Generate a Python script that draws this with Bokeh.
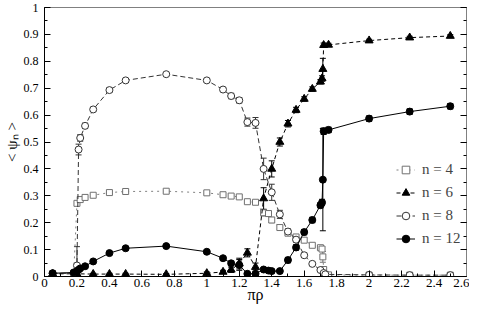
from bokeh.plotting import figure
from bokeh.models import (Range1d, LinearAxis, FixedTicker, Whisker, ColumnDataSource,
                          Legend, LegendItem, TeeHead)
from bokeh.embed import file_html
from bokeh.resources import INLINE

# ---------------- data ----------------
x_ticks = [0, 0.2, 0.4, 0.6, 0.8, 1.0, 1.2, 1.4, 1.6, 1.8, 2.0, 2.2, 2.4, 2.6]
x_tick_labels = ["0", "0.2", "0.4", "0.6", "0.8", "1", "1.2", "1.4", "1.6", "1.8", "2", "2.2", "2.4", "2.6"]
y_ticks = [0, 0.1, 0.2, 0.3, 0.4, 0.5, 0.6, 0.7, 0.8, 0.9, 1.0]
y_tick_labels = ["0", "0.1", "0.2", "0.3", "0.4", "0.5", "0.6", "0.7", "0.8", "0.9", "1"]

n4_x = [0.05, 0.18, 0.2, 0.22, 0.25, 0.3, 0.4, 0.5, 0.75, 1.0, 1.1, 1.15, 1.2, 1.25, 1.3, 1.35, 1.38,
        1.4, 1.45, 1.5, 1.55, 1.6, 1.65, 1.7, 1.71, 1.715, 1.72, 1.73, 1.75, 2.0, 2.25, 2.5]
n4_y = [0.01, 0.012, 0.272, 0.286, 0.294, 0.302, 0.312, 0.316, 0.317, 0.311, 0.304, 0.299, 0.296, 0.278,
        0.276, 0.237, 0.234, 0.21, 0.182, 0.161, 0.147, 0.135, 0.116, 0.107, 0.102, 0.073, 0.026, 0.008,
        0.006, 0.005, 0.005, 0.005]
n4_err = [0.003, 0.003, 0.008, 0.005, 0.004, 0.004, 0.004, 0.004, 0.004, 0.004, 0.004, 0.004, 0.004, 0.005,
          0.005, 0.012, 0.01, 0.01, 0.008, 0.006, 0.005, 0.005, 0.005, 0.006, 0.008, 0.02, 0.01, 0.004,
          0.003, 0.003, 0.003, 0.003]

n6_x = [0.05, 0.2, 0.3, 0.4, 0.5, 0.75, 1.0, 1.1, 1.15, 1.2, 1.25, 1.3, 1.35, 1.4, 1.45, 1.5, 1.55,
        1.6, 1.65, 1.7, 1.71, 1.715, 1.72, 1.75, 2.0, 2.25, 2.5]
n6_y = [0.01, 0.01, 0.009, 0.009, 0.009, 0.008, 0.012, 0.017, 0.025, 0.048, 0.088, 0.035, 0.29, 0.40,
        0.50, 0.568, 0.619, 0.66, 0.697, 0.724, 0.736, 0.771, 0.86, 0.861, 0.877, 0.888, 0.894]
n6_err = [0.003, 0.003, 0.003, 0.003, 0.003, 0.003, 0.005, 0.006, 0.01, 0.02, 0.015, 0.015, 0.04, 0.03,
          0.015, 0.012, 0.01, 0.008, 0.008, 0.008, 0.01, 0.04, 0.008, 0.006, 0.005, 0.005, 0.005]

n8_x = [0.05, 0.18, 0.2, 0.21, 0.22, 0.25, 0.3, 0.4, 0.5, 0.75, 1.0, 1.1, 1.15, 1.2, 1.25, 1.3, 1.35,
        1.4, 1.45, 1.5, 1.55, 1.6, 1.65, 1.7, 1.72, 1.73, 2.0, 2.25, 2.5]
n8_y = [0.012, 0.012, 0.041, 0.472, 0.515, 0.56, 0.621, 0.693, 0.729, 0.752, 0.729, 0.695, 0.671, 0.655,
        0.574, 0.571, 0.40, 0.313, 0.231, 0.167, 0.137, 0.079, 0.047, 0.024, 0.013, 0.008, 0.006,
        0.005, 0.005]
n8_err = [0.003, 0.003, 0.07, 0.02, 0.012, 0.01, 0.008, 0.008, 0.006, 0.005, 0.006, 0.008, 0.01, 0.01,
          0.015, 0.02, 0.04, 0.03, 0.015, 0.01, 0.01, 0.008, 0.006, 0.005, 0.004, 0.003, 0.003,
          0.003, 0.003]

n12_x = [0.05, 0.18, 0.2, 0.21, 0.22, 0.25, 0.3, 0.4, 0.5, 0.75, 1.0, 1.1, 1.15, 1.2, 1.25, 1.3, 1.35,
         1.38, 1.4, 1.45, 1.5, 1.55, 1.6, 1.65, 1.7, 1.71, 1.715, 1.72, 1.75, 2.0, 2.25, 2.5]
n12_y = [0.012, 0.015, 0.02, 0.025, 0.03, 0.038, 0.056, 0.087, 0.105, 0.113, 0.092, 0.068, 0.049, 0.043,
         0.01, 0.01, 0.026, 0.022, 0.02, 0.02, 0.061, 0.108, 0.165, 0.21, 0.265, 0.275, 0.36, 0.54,
         0.545, 0.587, 0.613, 0.633]
n12_err = [0.003, 0.003, 0.004, 0.004, 0.004, 0.004, 0.005, 0.005, 0.005, 0.005, 0.005, 0.006, 0.008,
           0.02, 0.004, 0.004, 0.006, 0.006, 0.006, 0.006, 0.01, 0.01, 0.01, 0.01, 0.01, 0.012, 0.19,
           0.012, 0.01, 0.01, 0.01, 0.01]

labels = ["n = 4", "n = 6", "n = 8", "n = 12"]
x_title = "πρ"
y_title = "< ψₙ >"

# ---------------- figure ----------------
SERIF = "Liberation Serif"

p = figure(width=469, height=305, output_backend="svg", toolbar_location=None,
           x_range=Range1d(0, 2.6), y_range=Range1d(0, 1),
           min_border_left=33, min_border_right=3, min_border_top=7, min_border_bottom=24,
           background_fill_color="white", border_fill_color="white")
p.grid.visible = False
p.outline_line_color = "#808080"
p.outline_line_width = 1

for ax in (p.xaxis[0], p.yaxis[0]):
    ax.major_tick_in = 6
    ax.major_tick_out = 0
    ax.minor_tick_in = 3
    ax.minor_tick_out = 0
    ax.axis_line_color = "black"
    ax.major_tick_line_color = "black"
    ax.minor_tick_line_color = "black"
    ax.major_label_text_font = SERIF
    ax.major_label_text_color = "black"
    ax.axis_label_text_font = SERIF
    ax.axis_label_text_font_style = "normal"
    ax.axis_label_text_color = "black"

p.xaxis.ticker = FixedTicker(ticks=x_ticks, minor_ticks=[i / 10 for i in range(27)])
p.xaxis.major_label_overrides = {t: s for t, s in zip(x_ticks, x_tick_labels)}
p.xaxis.major_label_text_font_size = "13px"
p.xaxis.major_label_standoff = 2
p.xaxis.axis_label = x_title
p.xaxis.axis_label_text_font_size = "16px"
p.xaxis.axis_label_standoff = -4

p.yaxis.ticker = FixedTicker(ticks=y_ticks, minor_ticks=[i / 20 for i in range(21)])
p.yaxis.major_label_overrides = {t: s for t, s in zip(y_ticks, y_tick_labels)}
p.yaxis.major_label_text_font_size = "12px"
p.yaxis.major_label_standoff = 6
p.yaxis.axis_label = y_title
p.yaxis.axis_label_text_font_size = "15px"
p.yaxis.axis_label_standoff = 1

right = LinearAxis(ticker=FixedTicker(ticks=y_ticks, minor_ticks=[i / 20 for i in range(21)]),
                   major_label_overrides={t: "" for t in y_ticks},
                   major_tick_in=6, major_tick_out=0,
                   minor_tick_in=3, minor_tick_out=0, axis_line_color="#808080",
                   major_tick_line_color="black", minor_tick_line_color="black",
                   major_label_standoff=0)
p.add_layout(right, "right")

series = [
    (n4_x, n4_y, n4_err, "square", 6, "#707070", "white", "dotted", "#808080"),
    (n6_x, n6_y, n6_err, "triangle", 8, "black", "black", "4 3", "black"),
    (n8_x, n8_y, n8_err, "circle", 7, "#333333", "white", "5 3", "#333333"),
    (n12_x, n12_y, n12_err, "circle", 7, "black", "black", "solid", "black"),
]

items = []
for (xs, ys, es, marker, size, mcol, fcol, dash, lcol), lab in zip(series, labels):
    src = ColumnDataSource(dict(x=xs, y=ys,
                                lo=[a - b for a, b in zip(ys, es)],
                                hi=[a + b for a, b in zip(ys, es)]))
    ln = p.line("x", "y", source=src, line_color=lcol, line_width=1, line_dash=dash)
    w = Whisker(base="x", upper="hi", lower="lo", source=src, dimension="height",
                line_color=mcol, line_width=1,
                upper_head=TeeHead(size=6, line_color=mcol, line_width=1),
                lower_head=TeeHead(size=6, line_color=mcol, line_width=1))
    p.add_layout(w)
    sc = p.scatter("x", "y", source=src, marker=marker, size=size, line_color=mcol,
                   fill_color=fcol, line_width=1)
    items.append(LegendItem(label=lab, renderers=[ln, sc]))

legend = Legend(items=items, location=(352, 26), padding=0, spacing=0, margin=0,
                label_height=23, glyph_height=23, glyph_width=19, label_standoff=7,
                label_text_font=SERIF, label_text_font_size="15px",
                background_fill_alpha=0, border_line_alpha=0)
p.add_layout(legend)

open("out.html", "w").write(file_html(p, INLINE))
